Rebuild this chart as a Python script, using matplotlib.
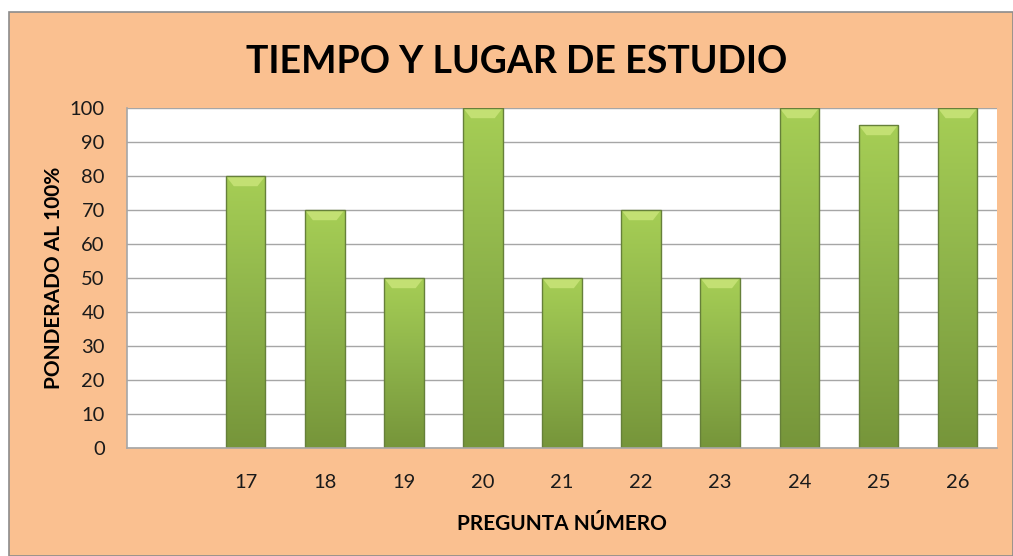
import numpy as np
import matplotlib
matplotlib.use('Agg')
import matplotlib.pyplot as plt
from matplotlib.patches import Rectangle

plt.rcParams['font.family'] = ['Lato', 'DejaVu Sans']

PEACH = '#FAC090'
GRID = '#A6A6A6'

categories = ['', '17', '18', '19', '20', '21', '22', '23', '24', '25', '26']
values = [np.nan, 80, 70, 50, 100, 50, 70, 50, 100, 95, 100]
yticks = [0, 10, 20, 30, 40, 50, 60, 70, 80, 90, 100]

fig = plt.figure(figsize=(10.13, 5.56), dpi=100)
fig.patch.set_facecolor('white')
# chart area with border
fig.patches.append(Rectangle((9 / 1013, 0), 1 - 9 / 1013, 1 - 12 / 556,
                             transform=fig.transFigure, facecolor=PEACH,
                             edgecolor='#8C8C8C', linewidth=1.2, zorder=-10))

ax = fig.add_axes([127 / 1013, 1 - 448 / 556, 870 / 1013, 340 / 556])
ax.set_facecolor('white')
x = np.arange(len(categories))
bars = ax.bar(x, values, width=0.5, color='#92B946', edgecolor='#6E8A35',
              linewidth=0.6, zorder=2)

# vertical gradient + top bevel on each bar
grad = np.linspace(0, 1, 256).reshape(-1, 1)
cmap = matplotlib.colors.LinearSegmentedColormap.from_list(
    'g', ['#76953A', '#8DB24A', '#A6CE55'])
for b, v in zip(bars, values):
    if np.isnan(v):
        continue
    x0, w = b.get_x(), b.get_width()
    im = ax.imshow(grad, extent=[x0, x0 + w, 0, v], origin='lower', cmap=cmap,
                   aspect='auto', zorder=2.1)
    im.set_clip_path(b)
    ax.add_patch(plt.Polygon([[x0, v], [x0 + w, v], [x0 + w * 0.8, v - 3.0],
                              [x0 + w * 0.2, v - 3.0]], closed=True,
                             facecolor='#C3E073', edgecolor='none', zorder=2.2))
    ax.add_patch(Rectangle((x0, 0), w, v, facecolor='none',
                           edgecolor='#66803A', linewidth=1.0, zorder=2.3))

ax.set_xlim(-0.5, len(categories) - 0.5)
ax.set_ylim(0, 100)
ax.set_yticks(yticks)
ax.set_xticks(x)
ax.set_xticklabels(categories)
ax.yaxis.grid(True, color=GRID, linewidth=1.0, zorder=0)
ax.set_axisbelow(True)
ax.tick_params(axis='both', length=0, labelsize=14.5, colors='#1A1A1A')
ax.tick_params(axis='x', pad=19)
ax.tick_params(axis='y', pad=16)
for s in ['top', 'right']:
    ax.spines[s].set_visible(False)
for s in ['left', 'bottom']:
    ax.spines[s].set_color(GRID)
    ax.spines[s].set_linewidth(1.2)

ax.set_ylabel('PONDERADO AL 100%', fontsize=15, fontweight='bold', labelpad=4)
ax.set_xlabel('PREGUNTA NÚMERO', fontsize=15, fontweight='bold', labelpad=16)
fig.text(517 / 1013, 1 - 62 / 556, 'TIEMPO Y LUGAR DE ESTUDIO', ha='center',
         va='center', fontsize=27, fontweight='bold')

fig.savefig('out.png', dpi=100, facecolor='white')
